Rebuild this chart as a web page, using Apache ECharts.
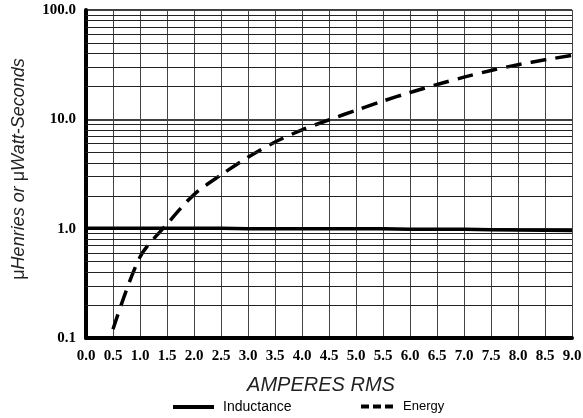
<!DOCTYPE html>
<html>
<head>
<meta charset="utf-8">
<script src="https://cdn.jsdelivr.net/npm/echarts@6/dist/echarts.min.js"></script>
<style>
  html, body { margin: 0; padding: 0; background: #fff; }
  #chart { width: 583px; height: 418px; }
</style>
</head>
<body>
<div id="chart"></div>
<script>
// amperes rms (x) for the inductance curve
const ampsL = [0, 0.5, 1, 1.5, 2, 2.5, 3, 3.5, 4, 4.5, 5, 5.5, 6, 6.5, 7, 7.5, 8, 8.5, 9];
// µHenries
const inductance = [1.01, 1.01, 1.01, 1.01, 1.01, 1.01, 1.0, 1.0, 1.0, 1.0, 1.0, 1.0, 0.99, 0.99, 0.99, 0.98, 0.97, 0.965, 0.96];
// amperes rms for the energy curve (starts at 0.5 A)
const ampsE = [0.5, 1, 1.5, 2, 2.5, 3, 3.5, 4, 4.5, 5, 5.5, 6, 6.5, 7, 7.5, 8, 8.5, 9];
// µWatt-seconds
const energy = [0.12, 0.55, 1.1, 2.05, 3.1, 4.5, 6.2, 8.0, 9.9, 12.1, 14.7, 17.6, 20.8, 24.3, 28, 31.6, 35, 38.5];
// log-paper minor rulings
const minorLines = [0.2, 0.3, 0.4, 0.5, 0.6, 0.7, 0.8, 0.9, 2, 3, 4, 5, 6, 7, 8, 9, 20, 30, 40, 50, 60, 70, 80, 90];

const serif = "'Liberation Serif', 'Times New Roman', serif";
const sans = "'Liberation Sans', Arial, sans-serif";

const chart = echarts.init(document.getElementById('chart'));

const option = {
  animation: false,
  backgroundColor: '#fff',
  grid: { left: 86, right: 11, top: 10, bottom: 80, outerBoundsMode: 'none', containLabel: false },
  title: {
    text: 'AMPERES RMS',
    left: 316,
    top: 370,
    textAlign: 'center',
    textStyle: { fontFamily: sans, fontStyle: 'italic', fontWeight: 'normal', fontSize: 20, color: '#222' }
  },
  legend: [
    {
      data: [{ name: 'Inductance', icon: 'rect' }],
      left: 168, top: 395,
      itemWidth: 41, itemHeight: 4,
      itemStyle: { color: '#000' },
      textStyle: { fontFamily: sans, fontSize: 14, color: '#000', padding: [0, 0, 0, 4] }
    },
    {
      data: [{ name: 'Energy', icon: 'path://M0,0h8v4h-8z M12,0h8v4h-8z M24,0h8v4h-8z' }],
      left: 356, top: 395,
      itemWidth: 34, itemHeight: 4,
      itemStyle: { color: '#000' },
      textStyle: { fontFamily: sans, fontSize: 13, color: '#000', padding: [0, 0, 0, 4] }
    }
  ],
  xAxis: {
    type: 'value',
    min: 0, max: 9, interval: 0.5,
    axisLine: { show: true, onZero: false, lineStyle: { color: '#000', width: 4 } },
    axisTick: { show: false },
    axisLabel: {
      margin: 11,
      fontFamily: serif, fontWeight: 'bold', fontSize: 15, color: '#000',
      formatter: v => v.toFixed(1)
    },
    splitLine: { show: true, lineStyle: { color: '#444', width: 1 } }
  },
  yAxis: {
    type: 'log',
    logBase: 10,
    min: 0.1, max: 100,
    name: '{m|\u03bc}Henries or {m|\u03bc}Watt-Seconds',
    nameLocation: 'middle',
    nameGap: 58,
    nameTextStyle: {
      fontFamily: sans, fontStyle: 'italic', fontSize: 18, color: '#222',
      padding: [0, 0, 0, 10],
      rich: { m: { fontFamily: sans, fontStyle: 'normal', fontSize: 18, color: '#222' } }
    },
    axisLine: { show: true, lineStyle: { color: '#000', width: 4 } },
    axisTick: { show: false },
    axisLabel: {
      margin: 10,
      fontFamily: serif, fontWeight: 'bold', fontSize: 15, color: '#000',
      formatter: v => Number(v).toFixed(1)
    },
    splitLine: { show: true, lineStyle: { color: '#000', width: 1.5 } }
  },
  series: [
    {
      name: 'Inductance',
      type: 'line',
      symbol: 'none',
      color: '#000',
      lineStyle: { color: '#000', width: 3.5 },
      data: ampsL.map((a, i) => [a, inductance[i]]),
      markLine: {
        silent: true,
        symbol: 'none',
        label: { show: false },
        lineStyle: { color: '#222', width: 1, type: 'solid' },
        data: minorLines.map(v => ({ yAxis: v }))
      },
      z: 3
    },
    {
      name: 'Energy',
      type: 'line',
      symbol: 'none',
      smooth: 0.3,
      color: '#000',
      lineStyle: { color: '#000', width: 3.5, type: [16, 9] },
      data: ampsE.map((a, i) => [a, energy[i]]),
      z: 4
    }
  ]
};

chart.setOption(option);
</script>
</body>
</html>
